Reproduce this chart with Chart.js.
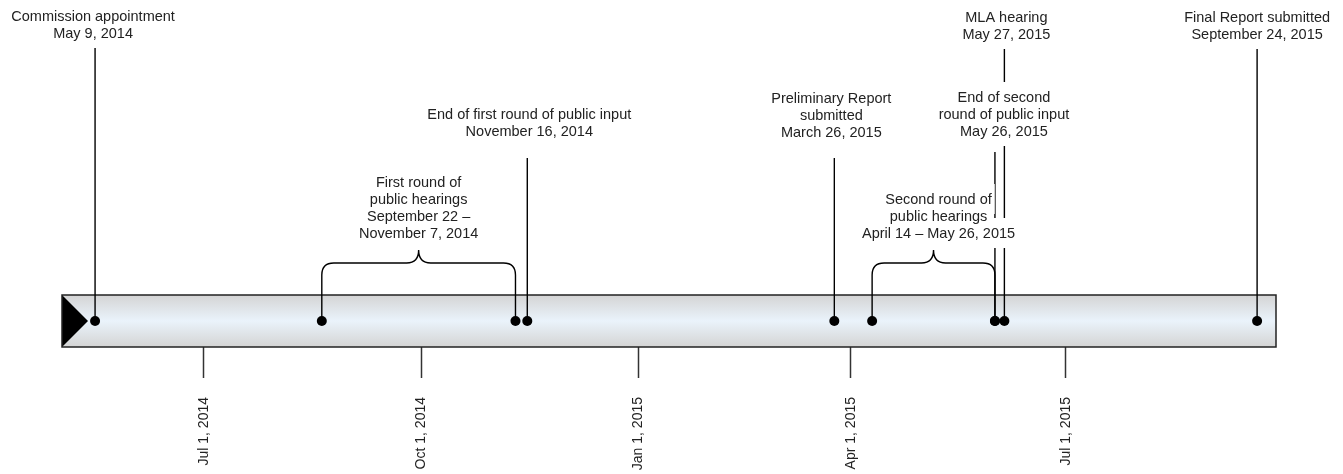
<!DOCTYPE html>
<html>
<head>
<meta charset="utf-8">
<script src="https://cdn.jsdelivr.net/npm/chart.js"></script>
<style>
  html, body { margin: 0; padding: 0; background: #fff; }
</style>
</head>
<body>
<canvas id="timeline" width="1343" height="474"></canvas>
<script>
// axis range and ticks
const axisStart = '2014-05-02';
const axisEnd = '2015-09-28';
const tickDates = ['2014-07-01', '2014-10-01', '2015-01-01', '2015-04-01', '2015-07-01'];
const tickLabels = ['Jul 1, 2014', 'Oct 1, 2014', 'Jan 1, 2015', 'Apr 1, 2015', 'Jul 1, 2015'];

// single events (marker position as drawn in the picture)
const eventDates = ['2014-05-16', '2014-11-15', '2015-03-25', '2015-06-01', '2015-06-05', '2015-09-20'];
const eventLabels = [
  ['Commission appointment', 'May 9, 2014'],
  ['End of first round of public input', 'November 16, 2014'],
  ['Preliminary Report', 'submitted', 'March 26, 2015'],
  ['End of second', 'round of public input', 'May 26, 2015'],
  ['MLA hearing', 'May 27, 2015'],
  ['Final Report submitted', 'September 24, 2015']
];

// periods drawn with a brace
const periodStarts = ['2014-08-20', '2015-04-10'];
const periodEnds = ['2014-11-10', '2015-06-01'];
const periodLabels = [
  ['First round of', 'public hearings', 'September 22 \u2013', 'November 7, 2014'],
  ['Second round of', 'public hearings', 'April 14 \u2013 May 26, 2015']
];

// label placement above the band (pixels)
const eventLayout = [
  { top: 21, line: 47, dx: -2 },
  { top: 119, line: 158, dx: 2 },
  { top: 103, line: 158, dx: -3 },
  { top: 102, line: 152, dx: 9 },
  { top: 22, line: 48, dx: 2 },
  { top: 22, line: 48, dx: 0 }
];
const periodLayout = [{ bottom: 238, dx: 0 }, { bottom: 238, dx: 5 }];
const rowGap = 17;
const fontFamily = '"Liberation Sans", Arial, Helvetica, sans-serif';

const toDay = d => Date.parse(d + 'T00:00:00Z') / 864e5;
const markerDates = eventDates.concat(periodStarts, periodEnds);

function drawLabel(ctx, rows, cx, firstBaseline) {
  ctx.font = '14.5px ' + fontFamily;
  ctx.textAlign = 'center';
  ctx.textBaseline = 'alphabetic';
  // white boxes first so the rows break the lines behind them
  ctx.fillStyle = '#fff';
  rows.forEach((t, i) => {
    const w = ctx.measureText(t).width;
    const b = firstBaseline + i * rowGap;
    ctx.fillRect(cx - w / 2 - 3, b - 20, w + 6, 30);
  });
  ctx.fillStyle = '#222';
  rows.forEach((t, i) => ctx.fillText(t, cx, firstBaseline + i * rowGap));
}

const timelinePlugin = {
  id: 'timeline',
  beforeDatasetsDraw(chart) {
    const { ctx, chartArea: a, scales: { x, y } } = chart;
    const midY = y.getPixelForValue(0.5);
    ctx.save();

    // band
    const g = ctx.createLinearGradient(0, a.top, 0, a.bottom);
    g.addColorStop(0, '#d4d4d4');
    g.addColorStop(0.5, '#eaf3fb');
    g.addColorStop(1, '#d4d4d4');
    ctx.fillStyle = g;
    ctx.fillRect(a.left, a.top, a.width, a.height);
    ctx.fillStyle = '#000';
    ctx.beginPath();
    ctx.moveTo(a.left, a.top);
    ctx.lineTo(a.left + 26, midY);
    ctx.lineTo(a.left, a.bottom);
    ctx.closePath();
    ctx.fill();
    ctx.strokeStyle = '#222';
    ctx.lineWidth = 1.5;
    ctx.strokeRect(a.left, a.top, a.width, a.height);

    // leader lines
    ctx.strokeStyle = '#000';
    ctx.lineWidth = 1.4;
    eventDates.forEach((d, i) => {
      const px = x.getPixelForValue(toDay(d));
      ctx.beginPath();
      ctx.moveTo(px, eventLayout[i].line);
      ctx.lineTo(px, midY);
      ctx.stroke();
    });

    // braces
    const yH = 263, yTop = 250, r = 12;
    periodStarts.forEach((d, i) => {
      const x1 = x.getPixelForValue(toDay(d));
      const x2 = x.getPixelForValue(toDay(periodEnds[i]));
      const xm = (x1 + x2) / 2;
      ctx.beginPath();
      ctx.moveTo(x1, midY);
      ctx.lineTo(x1, yH + r);
      ctx.quadraticCurveTo(x1, yH, x1 + r, yH);
      ctx.lineTo(xm - r, yH);
      ctx.quadraticCurveTo(xm, yH, xm, yTop);
      ctx.quadraticCurveTo(xm, yH, xm + r, yH);
      ctx.lineTo(x2 - r, yH);
      ctx.quadraticCurveTo(x2, yH, x2, yH + r);
      ctx.lineTo(x2, midY);
      ctx.stroke();
    });

    // labels
    eventDates.forEach((d, i) => {
      const px = x.getPixelForValue(toDay(d));
      drawLabel(ctx, eventLabels[i], px + eventLayout[i].dx, eventLayout[i].top);
    });
    periodStarts.forEach((d, i) => {
      const xm = (x.getPixelForValue(toDay(d)) + x.getPixelForValue(toDay(periodEnds[i]))) / 2;
      const rows = periodLabels[i];
      const first = periodLayout[i].bottom - (rows.length - 1) * rowGap;
      drawLabel(ctx, rows, xm + periodLayout[i].dx, first);
    });
    ctx.restore();
  }
};

new Chart(document.getElementById('timeline'), {
  type: 'scatter',
  data: {
    datasets: [{
      data: markerDates.map(d => ({ x: toDay(d), y: 0.5 })),
      pointRadius: 5,
      pointHoverRadius: 5,
      pointBackgroundColor: '#000',
      pointBorderWidth: 0,
      clip: false
    }]
  },
  options: {
    responsive: false,
    animation: false,
    events: [],
    layout: { padding: { top: 295, left: 62, right: 67, bottom: 0 } },
    plugins: {
      legend: { display: false },
      tooltip: { enabled: false }
    },
    scales: {
      x: {
        type: 'linear',
        min: toDay(axisStart),
        max: toDay(axisEnd),
        afterBuildTicks: scale => {
          scale.ticks = tickDates.map(d => ({ value: toDay(d) }));
        },
        afterFit: scale => { scale.height = 127; },
        grid: {
          drawOnChartArea: false,
          drawTicks: true,
          tickLength: 31,
          tickColor: '#333',
          tickWidth: 1.5
        },
        border: { display: false },
        ticks: {
          autoSkip: false,
          minRotation: 90,
          maxRotation: 90,
          padding: 19,
          color: '#222',
          font: { family: fontFamily, size: 14 },
          callback: (v, i) => tickLabels[i]
        }
      },
      y: { display: false, min: 0, max: 1 }
    }
  },
  plugins: [timelinePlugin]
});
</script>
</body>
</html>
